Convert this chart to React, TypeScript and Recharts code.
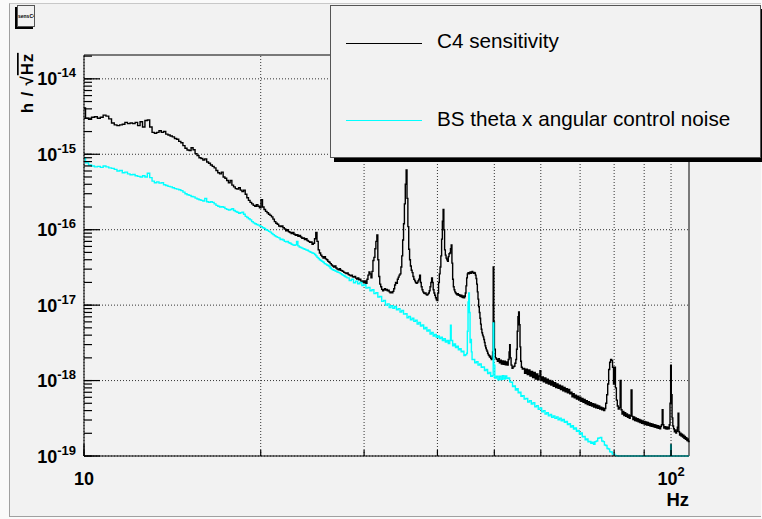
import { LineChart, Line, XAxis, YAxis, ReferenceLine } from "recharts";

// Spectra as [frequency (Hz), amplitude (1/sqrt(Hz))], histogram bins drawn as steps
const c4Low: [number, number][] = [
  [10.0, 4.1e-15], [10.06, 3.0e-15], [10.18, 2.9e-15], [10.3, 3.1e-15], [10.42, 3.15e-15],
  [10.54, 3.0e-15], [10.66, 3.1e-15], [10.78, 3.3e-15], [10.9, 3.2e-15], [11.02, 2.95e-15],
  [11.14, 2.6e-15], [11.26, 2.45e-15], [11.38, 2.4e-15], [11.5, 2.45e-15], [11.62, 2.5e-15],
  [11.74, 2.65e-15], [11.86, 2.55e-15], [11.98, 2.6e-15], [12.1, 2.55e-15], [12.22, 2.65e-15],
  [12.34, 2.4e-15], [12.46, 2.7e-15], [12.58, 2.3e-15], [12.7, 2.8e-15], [12.82, 2.85e-15],
  [12.94, 2.3e-15], [13.06, 1.95e-15], [13.18, 1.9e-15], [13.3, 1.95e-15], [13.42, 2.05e-15],
  [13.54, 1.95e-15], [13.66, 2.0e-15], [13.78, 1.85e-15], [13.9, 1.8e-15], [14.02, 1.75e-15],
  [14.14, 1.7e-15], [14.26, 1.62e-15], [14.38, 1.58e-15], [14.5, 1.48e-15], [14.62, 1.42e-15],
  [14.74, 1.3e-15], [14.86, 1.2e-15], [14.98, 1.14e-15], [15.1, 1.12e-15], [15.22, 1.22e-15],
  [15.34, 1.15e-15], [15.46, 1.02e-15], [15.58, 9.6e-16], [15.7, 9.0e-16], [15.82, 8.8e-16],
  [15.94, 8.4e-16], [16.06, 8.7e-16], [16.18, 7.9e-16], [16.3, 7.6e-16], [16.42, 7.2e-16],
  [16.54, 6.9e-16], [16.66, 6.6e-16], [16.78, 6.1e-16], [16.9, 5.7e-16], [17.02, 5.5e-16],
  [17.14, 5.8e-16], [17.26, 5.0e-16], [17.38, 4.8e-16], [17.5, 4.5e-16], [17.62, 4.2e-16],
  [17.74, 4.5e-16], [17.86, 3.9e-16], [17.98, 3.7e-16], [18.1, 3.5e-16], [18.22, 3.45e-16],
  [18.34, 3.6e-16], [18.46, 3.35e-16], [18.58, 3.2e-16], [18.7, 3.35e-16], [18.82, 2.95e-16],
  [18.94, 2.65e-16], [19.06, 2.45e-16], [19.18, 2.3e-16], [19.3, 2.2e-16], [19.42, 2.1e-16],
  [19.54, 2.05e-16], [19.66, 2.15e-16], [19.78, 2.05e-16], [19.9, 1.95e-16],
];

const c4Mid: [number, number][] = [
  [20.02, 2.5e-16], [20.14, 2.0e-16], [20.26, 1.85e-16], [20.38, 1.75e-16], [20.5, 1.68e-16],
  [20.62, 1.6e-16], [20.74, 1.55e-16], [20.86, 1.48e-16], [20.98, 1.38e-16], [21.1, 1.28e-16],
  [21.22, 1.22e-16], [21.34, 1.18e-16], [21.46, 1.12e-16], [21.58, 1.1e-16], [21.7, 1.12e-16],
  [21.82, 1.06e-16], [21.94, 1.02e-16], [22.06, 9.7e-17], [22.18, 1.0e-16], [22.3, 9.4e-17],
  [22.42, 9.2e-17], [22.54, 8.9e-17], [22.66, 9.2e-17], [22.78, 8.7e-17], [22.9, 8.4e-17],
  [23.02, 8.6e-17], [23.14, 8.2e-17], [23.26, 8.4e-17], [23.38, 8.0e-17], [23.5, 7.7e-17],
  [23.62, 7.8e-17], [23.74, 7.4e-17], [23.86, 7.6e-17], [23.98, 7.2e-17], [24.1, 7.0e-17],
  [24.22, 6.8e-17], [24.34, 6.9e-17], [24.46, 6.4e-17], [24.58, 6.6e-17], [24.7, 7.6e-17],
  [24.82, 9.2e-17], [24.94, 7.0e-17], [25.06, 5.4e-17], [25.18, 4.9e-17], [25.3, 4.6e-17],
  [25.42, 4.4e-17], [25.54, 4.2e-17], [25.66, 4.4e-17], [25.78, 4.1e-17], [25.9, 4.0e-17],
  [26.02, 3.8e-17], [26.14, 3.7e-17], [26.26, 3.55e-17], [26.38, 3.4e-17], [26.5, 3.3e-17],
  [26.62, 3.2e-17], [26.74, 3.3e-17], [26.86, 3.1e-17], [26.98, 3.0e-17], [27.1, 2.95e-17],
  [27.22, 3.05e-17], [27.34, 2.9e-17], [27.46, 2.85e-17], [27.58, 2.8e-17], [27.7, 2.72e-17],
  [27.82, 2.68e-17], [27.94, 2.62e-17], [28.06, 2.68e-17], [28.18, 2.55e-17], [28.3, 2.5e-17],
  [28.42, 2.45e-17], [28.54, 2.5e-17], [28.66, 2.38e-17], [28.78, 2.35e-17], [28.9, 2.4e-17],
  [29.02, 2.28e-17], [29.14, 2.22e-17], [29.26, 2.3e-17], [29.38, 2.16e-17], [29.5, 2.2e-17],
  [29.62, 2.08e-17], [29.74, 2.02e-17], [29.86, 2.1e-17], [29.98, 1.98e-17], [30.1, 2.1e-17],
  [30.22, 1.95e-17], [30.34, 2.2e-17], [30.46, 2.5e-17], [30.58, 2.75e-17], [30.7, 2.6e-17],
  [30.82, 2.3e-17], [30.94, 2.8e-17], [31.06, 3.9e-17], [31.18, 4.3e-17], [31.3, 5.6e-17],
  [31.42, 7.0e-17], [31.54, 8.5e-17], [31.66, 4.0e-17], [31.78, 2.4e-17], [31.9, 1.9e-17],
  [32.02, 1.75e-17], [32.14, 1.62e-17], [32.26, 1.55e-17], [32.38, 1.6e-17], [32.5, 1.65e-17],
  [32.62, 1.58e-17], [32.74, 1.62e-17], [32.86, 1.55e-17], [32.98, 1.58e-17], [33.1, 1.5e-17],
  [33.22, 1.46e-17], [33.34, 1.5e-17], [33.46, 1.46e-17], [33.58, 1.52e-17], [33.7, 1.65e-17],
  [33.82, 1.85e-17], [33.94, 2.0e-17], [34.06, 1.95e-17], [34.18, 2.2e-17], [34.3, 2.35e-17],
  [34.42, 2.5e-17], [34.54, 2.6e-17], [34.66, 3.2e-17], [34.78, 4.5e-17], [34.9, 7.3e-17],
  [35.02, 1.2e-16], [35.14, 2.2e-16], [35.26, 4.0e-16], [35.38, 6.2e-16], [35.5, 2.6e-16],
  [35.62, 1.1e-16], [35.74, 5.5e-17], [35.86, 4.0e-17], [35.98, 3.3e-17], [36.1, 2.9e-17],
  [36.22, 2.7e-17], [36.34, 2.4e-17], [36.46, 2.2e-17], [36.58, 2.1e-17], [36.7, 2.0e-17],
  [36.82, 1.95e-17], [36.94, 2.0e-17], [37.06, 2.1e-17], [37.18, 2.2e-17], [37.3, 2.5e-17],
  [37.42, 2.0e-17], [37.54, 1.75e-17], [37.66, 1.6e-17], [37.78, 1.5e-17], [37.9, 1.45e-17],
  [38.02, 1.42e-17], [38.14, 1.45e-17], [38.26, 1.38e-17], [38.38, 1.36e-17], [38.5, 1.4e-17],
  [38.62, 1.45e-17], [38.74, 1.55e-17], [38.86, 1.75e-17], [38.98, 2.0e-17], [39.1, 2.3e-17],
  [39.22, 2.0e-17], [39.34, 1.6e-17], [39.46, 1.45e-17], [39.58, 1.35e-17], [39.7, 1.25e-17],
  [39.82, 1.18e-17], [39.94, 1.15e-17], [40.06, 1.45e-17], [40.18, 2.0e-17], [40.3, 2.6e-17],
  [40.42, 3.2e-17], [40.54, 4.5e-17], [40.66, 7.5e-17], [40.78, 1.3e-16], [40.9, 1.85e-16],
  [41.02, 1.0e-16], [41.14, 5.4e-17], [41.26, 4.6e-17], [41.38, 4.2e-17], [41.5, 4.0e-17],
  [41.62, 3.8e-17], [41.74, 4.4e-17], [41.86, 4.8e-17], [41.98, 4.9e-17], [42.1, 5.6e-17],
  [42.22, 6.3e-17], [42.34, 3.6e-17], [42.46, 2.2e-17], [42.58, 1.75e-17], [42.7, 1.6e-17],
  [42.82, 1.5e-17], [42.94, 1.45e-17], [43.06, 1.4e-17], [43.18, 1.37e-17], [43.3, 1.42e-17],
  [43.42, 1.35e-17], [43.54, 1.38e-17], [43.66, 1.32e-17], [43.78, 1.3e-17], [43.9, 1.35e-17],
  [44.02, 1.28e-17], [44.14, 1.26e-17], [44.26, 1.32e-17], [44.38, 1.25e-17], [44.5, 1.3e-17],
  [44.62, 1.45e-17], [44.74, 1.8e-17], [44.86, 2.3e-17], [44.98, 2.6e-17], [45.1, 2.7e-17],
  [45.22, 2.6e-17], [45.34, 2.7e-17], [45.46, 2.75e-17], [45.58, 2.65e-17], [45.7, 2.72e-17],
  [45.82, 2.8e-17], [45.94, 2.7e-17], [46.06, 2.65e-17], [46.18, 2.72e-17], [46.3, 2.68e-17],
  [46.42, 2.5e-17], [46.54, 2.25e-17], [46.66, 1.9e-17], [46.78, 1.5e-17], [46.9, 1.2e-17],
  [47.02, 9.5e-18], [47.14, 8.0e-18], [47.26, 6.7e-18], [47.38, 5.6e-18], [47.5, 4.8e-18],
  [47.62, 4.3e-18], [47.74, 4.0e-18], [47.86, 3.8e-18], [47.98, 3.5e-18], [48.1, 3.2e-18],
  [48.22, 2.9e-18], [48.34, 2.7e-18], [48.46, 2.55e-18], [48.58, 2.45e-18], [48.7, 2.3e-18],
  [48.82, 2.2e-18], [48.94, 2.15e-18], [49.06, 2.05e-18], [49.18, 2.1e-18], [49.3, 1.98e-18],
  [49.42, 1.9e-18], [49.54, 1.95e-18], [49.66, 2.4e-18], [49.78, 3.2e-17], [49.9, 6.0e-18],
];

const c4High: [number, number][] = [
  [50.02, 2.6e-18], [50.2, 2.0e-18], [50.4, 1.92e-18], [50.6, 1.8e-18], [50.8, 1.95e-18],
  [51.0, 1.72e-18], [51.2, 1.86e-18], [51.4, 1.66e-18], [51.6, 1.82e-18], [51.8, 1.64e-18],
  [52.0, 1.8e-18], [52.2, 1.62e-18], [52.4, 1.76e-18], [52.6, 1.6e-18], [52.8, 1.9e-18],
  [52.98, 2.4e-18], [53.1, 3.0e-18], [53.22, 2.0e-18], [53.4, 1.6e-18], [53.6, 1.45e-18],
  [53.8, 1.52e-18], [54.0, 1.55e-18], [54.2, 1.7e-18], [54.4, 1.9e-18], [54.55, 2.6e-18],
  [54.7, 4.5e-18], [54.85, 7.0e-18], [55.0, 8.1e-18], [55.15, 5.5e-18], [55.3, 2.8e-18],
  [55.45, 1.8e-18], [55.6, 1.5e-18], [55.8, 1.42e-18], [56.0, 1.45e-18], [56.3, 1.25e-18],
  [56.6, 1.42e-18], [56.9, 1.2e-18], [57.2, 1.38e-18], [57.5, 1.15e-18], [57.8, 1.32e-18],
  [58.1, 1.1e-18], [58.4, 1.28e-18], [58.7, 1.05e-18], [59.0, 1.22e-18], [59.3, 1.02e-18],
  [59.6, 1.15e-18], [59.8, 1.35e-18], [60.0, 1.0e-18], [60.3, 1.12e-18], [60.6, 9.6e-19],
  [60.9, 1.08e-18], [61.2, 9.3e-19], [61.5, 1.04e-18], [61.8, 9.0e-19], [62.1, 1.0e-18],
  [62.4, 8.7e-19], [62.7, 9.7e-19], [63.0, 8.4e-19], [63.3, 9.4e-19], [63.6, 8.1e-19],
  [63.9, 9.0e-19], [64.2, 7.9e-19], [64.5, 8.7e-19], [64.8, 7.6e-19], [65.1, 8.4e-19],
  [65.4, 7.3e-19], [65.7, 8.1e-19], [66.0, 7.1e-19], [66.3, 7.8e-19], [66.6, 6.9e-19],
  [66.9, 7.6e-19], [67.2, 6.7e-19], [67.5, 7.0e-19], [67.8, 6.1e-19], [68.1, 6.7e-19],
  [68.4, 5.9e-19], [68.7, 6.4e-19], [69.0, 5.7e-19], [69.3, 6.2e-19], [69.6, 5.5e-19],
  [69.9, 6.0e-19], [70.2, 5.3e-19], [70.5, 5.8e-19], [70.8, 5.15e-19], [71.1, 5.6e-19],
  [71.4, 4.95e-19], [71.7, 5.4e-19], [72.0, 4.8e-19], [72.3, 5.25e-19], [72.6, 4.7e-19],
  [72.9, 5.1e-19], [73.2, 4.6e-19], [73.5, 4.95e-19], [73.8, 4.45e-19], [74.1, 4.85e-19],
  [74.4, 4.35e-19], [74.7, 4.7e-19], [75.0, 4.3e-19], [75.3, 4.6e-19], [75.6, 4.2e-19],
  [75.9, 4.45e-19], [76.2, 4.1e-19], [76.5, 4.35e-19], [76.8, 4.0e-19], [77.1, 4.25e-19],
  [77.4, 5.0e-19], [77.7, 6.5e-19], [78.0, 9.0e-19], [78.3, 1.4e-18], [78.6, 1.75e-18],
  [78.9, 1.9e-18], [79.2, 1.85e-18], [79.5, 1.5e-18], [79.8, 9.0e-19], [80.1, 1.5e-18],
  [80.4, 8.0e-19], [80.7, 5.5e-19], [81.0, 4.6e-19], [81.3, 4.2e-19], [81.6, 4.4e-19],
  [81.9, 1.0e-18], [82.2, 4.1e-19], [82.5, 3.6e-19], [82.8, 3.9e-19], [83.1, 3.45e-19],
  [83.4, 3.75e-19], [83.7, 3.35e-19], [84.0, 3.6e-19], [84.3, 3.25e-19], [84.6, 3.5e-19],
  [84.9, 3.15e-19], [85.2, 3.45e-19], [85.5, 7.5e-19], [85.8, 3.35e-19], [86.1, 3.05e-19],
  [86.4, 3.3e-19], [86.7, 2.95e-19], [87.0, 3.2e-19], [87.3, 2.9e-19], [87.6, 3.12e-19],
  [87.9, 2.84e-19], [88.2, 3.05e-19], [88.5, 2.78e-19], [88.8, 2.98e-19], [89.1, 2.72e-19],
  [89.4, 2.92e-19], [89.7, 2.67e-19], [90.0, 2.88e-19], [90.3, 2.62e-19], [90.6, 2.82e-19],
  [90.9, 2.58e-19], [91.2, 2.78e-19], [91.5, 2.55e-19], [91.8, 2.72e-19], [92.1, 2.5e-19],
  [92.4, 2.68e-19], [92.7, 2.47e-19], [93.0, 2.64e-19], [93.3, 2.43e-19], [93.6, 2.6e-19],
  [93.9, 2.4e-19], [94.2, 2.56e-19], [94.5, 2.36e-19], [94.8, 2.52e-19], [95.1, 2.33e-19],
  [95.4, 2.48e-19], [95.7, 2.3e-19], [96.0, 2.45e-19], [96.3, 2.6e-19], [96.6, 4.1e-19],
  [96.9, 2.6e-19], [97.2, 2.35e-19], [97.5, 2.45e-19], [97.8, 2.3e-19], [98.1, 2.42e-19],
  [98.4, 2.28e-19], [98.7, 2.4e-19], [99.0, 2.3e-19], [99.3, 2.6e-19], [99.6, 5.0e-19],
  [99.85, 1.6e-18], [100.1, 6.5e-19], [100.4, 3.2e-19], [100.7, 2.5e-19], [101.0, 2.3e-19],
  [101.3, 2.1e-19], [101.6, 2.22e-19], [101.9, 2.02e-19], [102.2, 2.12e-19], [102.5, 2.4e-19],
  [102.8, 3.7e-19], [103.1, 2.1e-19], [103.4, 1.9e-19], [103.7, 2.0e-19], [104.0, 1.84e-19],
  [104.3, 1.94e-19], [104.6, 1.78e-19], [104.9, 1.88e-19], [105.2, 1.72e-19], [105.5, 1.82e-19],
  [105.8, 1.66e-19], [106.1, 1.75e-19], [106.4, 1.6e-19], [106.7, 1.68e-19], [107.0, 1.56e-19],
  [107.3, 1.6e-19],
];

const bsLow: [number, number][] = [
  [10.0, 9.0e-16], [10.06, 7.7e-16], [10.18, 7.2e-16], [10.3, 7.0e-16], [10.42, 6.8e-16],
  [10.54, 6.9e-16], [10.66, 6.7e-16], [10.78, 7.0e-16], [10.9, 6.8e-16], [11.02, 6.6e-16],
  [11.14, 6.5e-16], [11.26, 6.3e-16], [11.38, 6.0e-16], [11.5, 6.1e-16], [11.62, 5.7e-16],
  [11.74, 5.8e-16], [11.86, 5.5e-16], [11.98, 5.35e-16], [12.1, 5.4e-16], [12.22, 5.2e-16],
  [12.34, 5.1e-16], [12.46, 5.0e-16], [12.58, 5.2e-16], [12.7, 5.0e-16], [12.82, 5.6e-16],
  [12.94, 4.9e-16], [13.06, 4.4e-16], [13.18, 4.2e-16], [13.3, 4.3e-16], [13.42, 4.15e-16],
  [13.54, 4.2e-16], [13.66, 3.95e-16], [13.78, 3.85e-16], [13.9, 3.75e-16], [14.02, 3.7e-16],
  [14.14, 3.6e-16], [14.26, 3.5e-16], [14.38, 3.45e-16], [14.5, 3.38e-16], [14.62, 3.3e-16],
  [14.74, 3.15e-16], [14.86, 3.0e-16], [14.98, 2.9e-16], [15.1, 2.85e-16], [15.22, 2.75e-16],
  [15.34, 2.72e-16], [15.46, 2.62e-16], [15.58, 2.55e-16], [15.7, 2.5e-16], [15.82, 2.45e-16],
  [15.94, 2.4e-16], [16.06, 2.6e-16], [16.18, 2.35e-16], [16.3, 2.3e-16], [16.42, 2.35e-16],
  [16.54, 2.3e-16], [16.66, 2.2e-16], [16.78, 2.1e-16], [16.9, 2.05e-16], [17.02, 2.0e-16],
  [17.14, 2.02e-16], [17.26, 1.98e-16], [17.38, 1.9e-16], [17.5, 1.86e-16], [17.62, 1.82e-16],
  [17.74, 1.85e-16], [17.86, 1.9e-16], [17.98, 1.8e-16], [18.1, 1.74e-16], [18.22, 1.7e-16],
  [18.34, 1.65e-16], [18.46, 1.68e-16], [18.58, 1.7e-16], [18.7, 1.6e-16], [18.82, 1.5e-16],
  [18.94, 1.45e-16], [19.06, 1.4e-16], [19.18, 1.35e-16], [19.3, 1.28e-16], [19.42, 1.23e-16],
  [19.54, 1.2e-16], [19.66, 1.17e-16], [19.78, 1.15e-16], [19.9, 1.12e-16],
];

const bsMid: [number, number][] = [
  [20.02, 1.1e-16], [20.14, 1.06e-16], [20.26, 1.04e-16], [20.38, 1.0e-16], [20.5, 9.8e-17],
  [20.62, 9.5e-17], [20.74, 9.3e-17], [20.86, 8.9e-17], [20.98, 8.6e-17], [21.1, 8.3e-17],
  [21.22, 8.1e-17], [21.34, 7.9e-17], [21.46, 7.8e-17], [21.58, 7.4e-17], [21.7, 7.5e-17],
  [21.82, 7.3e-17], [21.94, 7.0e-17], [22.06, 6.9e-17], [22.18, 7.0e-17], [22.3, 6.7e-17],
  [22.42, 6.6e-17], [22.54, 6.4e-17], [22.66, 6.3e-17], [22.78, 6.2e-17], [22.9, 6.3e-17],
  [23.02, 7.0e-17], [23.14, 6.1e-17], [23.26, 5.9e-17], [23.38, 5.8e-17], [23.5, 5.7e-17],
  [23.62, 5.6e-17], [23.74, 5.5e-17], [23.86, 5.4e-17], [23.98, 5.35e-17], [24.1, 5.2e-17],
  [24.22, 5.1e-17], [24.34, 5.0e-17], [24.46, 4.9e-17], [24.58, 4.85e-17], [24.7, 4.7e-17],
  [24.82, 4.5e-17], [24.94, 4.3e-17], [25.06, 4.15e-17], [25.18, 4.0e-17], [25.3, 3.9e-17],
  [25.42, 3.8e-17], [25.54, 3.7e-17], [25.66, 3.55e-17], [25.78, 3.5e-17], [25.9, 3.4e-17],
  [26.02, 3.35e-17], [26.14, 3.25e-17], [26.26, 3.1e-17], [26.38, 3.0e-17], [26.5, 2.95e-17],
  [26.62, 2.9e-17], [26.74, 2.85e-17], [26.86, 2.8e-17], [26.98, 2.75e-17], [27.1, 2.72e-17],
  [27.22, 2.68e-17], [27.34, 2.62e-17], [27.46, 2.55e-17], [27.58, 2.5e-17], [27.7, 2.45e-17],
  [27.82, 2.4e-17], [27.94, 2.35e-17], [28.06, 2.3e-17], [28.3, 2.12e-17], [28.54, 2.2e-17],
  [28.78, 1.98e-17], [29.02, 2.08e-17], [29.26, 1.92e-17], [29.5, 2.0e-17], [29.74, 1.82e-17],
  [29.98, 1.86e-17], [30.22, 1.68e-17], [30.46, 1.72e-17], [30.7, 1.55e-17], [30.94, 1.6e-17],
  [31.18, 1.42e-17], [31.42, 1.46e-17], [31.66, 1.28e-17], [31.9, 1.3e-17], [32.14, 1.12e-17],
  [32.38, 1.15e-17], [32.62, 1.0e-17], [32.86, 1.04e-17], [33.1, 9.3e-18], [33.34, 9.8e-18],
  [33.58, 9.1e-18], [33.82, 9.6e-18], [34.06, 8.7e-18], [34.3, 9.0e-18], [34.54, 8.1e-18],
  [34.78, 8.5e-18], [35.02, 7.6e-18], [35.26, 7.7e-18], [35.5, 6.8e-18], [35.74, 7.1e-18],
  [35.98, 6.4e-18], [36.22, 6.7e-18], [36.46, 6.1e-18], [36.7, 6.3e-18], [36.94, 5.6e-18],
  [37.18, 5.9e-18], [37.42, 5.3e-18], [37.66, 5.45e-18], [37.9, 4.85e-18], [38.14, 5.05e-18],
  [38.38, 4.55e-18], [38.62, 4.7e-18], [38.86, 4.15e-18], [39.1, 4.35e-18], [39.34, 3.9e-18],
  [39.58, 4.1e-18], [39.82, 3.75e-18], [40.06, 3.9e-18], [40.3, 3.6e-18], [40.54, 3.75e-18],
  [40.78, 3.4e-18], [41.02, 3.6e-18], [41.26, 3.25e-18], [41.5, 3.4e-18], [41.74, 3.1e-18],
  [41.98, 3.4e-18], [42.1, 5.4e-18], [42.22, 3.4e-18], [42.46, 2.9e-18], [42.7, 3.05e-18],
  [42.94, 2.75e-18], [43.18, 2.85e-18], [43.42, 2.55e-18], [43.66, 2.65e-18], [43.9, 2.4e-18],
  [44.14, 2.45e-18], [44.38, 2.15e-18], [44.62, 2.2e-18], [44.86, 2.3e-18], [44.98, 4.5e-18],
  [45.1, 1.1e-17], [45.22, 1.45e-17], [45.34, 8.0e-18], [45.46, 3.2e-18], [45.58, 3.5e-18],
  [45.7, 2.4e-18], [45.82, 1.9e-18],
];

const bsHigh: [number, number][] = [
  [46.0, 1.9e-18], [46.3, 1.72e-18], [46.6, 1.78e-18], [46.9, 1.6e-18], [47.2, 1.66e-18],
  [47.5, 1.5e-18], [47.8, 1.52e-18], [48.1, 1.36e-18], [48.4, 1.4e-18], [48.7, 1.24e-18],
  [49.0, 1.28e-18], [49.3, 1.14e-18], [49.6, 1.16e-18], [49.78, 5.8e-18], [49.9, 1.6e-18],
  [50.1, 1.08e-18], [50.4, 1.14e-18], [50.7, 1.02e-18], [51.0, 1.14e-18], [51.3, 1.03e-18],
  [51.6, 1.16e-18], [51.9, 1.05e-18], [52.2, 1.15e-18], [52.5, 1.06e-18], [52.8, 1.08e-18],
  [53.1, 9.6e-19], [53.4, 9.5e-19], [53.7, 8.3e-19], [54.0, 8.5e-19], [54.3, 7.5e-19],
  [54.6, 7.8e-19], [54.9, 6.9e-19], [55.2, 7.0e-19], [55.5, 6.2e-19], [55.8, 6.3e-19],
  [56.2, 5.7e-19], [56.6, 5.8e-19], [57.0, 5.2e-19], [57.4, 5.4e-19], [57.8, 4.9e-19],
  [58.2, 5.1e-19], [58.6, 4.5e-19], [59.0, 4.65e-19], [59.4, 4.15e-19], [59.8, 4.35e-19],
  [60.2, 3.85e-19], [60.6, 4.0e-19], [61.0, 3.6e-19], [61.4, 3.75e-19], [61.8, 3.4e-19],
  [62.2, 3.55e-19], [62.6, 3.25e-19], [63.0, 3.4e-19], [63.4, 3.15e-19], [63.8, 3.3e-19],
  [64.2, 3.02e-19], [64.6, 3.18e-19], [65.0, 2.92e-19], [65.4, 3.05e-19], [65.8, 2.8e-19],
  [66.2, 2.88e-19], [66.6, 2.62e-19], [67.0, 2.68e-19], [67.4, 2.42e-19], [67.8, 2.52e-19],
  [68.2, 2.28e-19], [68.6, 2.35e-19], [69.0, 2.12e-19], [69.4, 2.18e-19], [69.8, 1.96e-19],
  [70.2, 2.02e-19], [70.6, 1.8e-19], [71.0, 1.82e-19], [71.4, 1.64e-19], [71.8, 1.68e-19],
  [72.2, 1.54e-19], [72.6, 1.56e-19], [73.0, 1.47e-19], [73.4, 1.52e-19], [73.8, 1.43e-19],
  [74.2, 1.55e-19], [74.6, 1.58e-19], [75.0, 1.72e-19], [75.4, 1.74e-19], [75.8, 1.76e-19],
  [76.2, 1.58e-19], [76.6, 1.55e-19], [77.0, 1.4e-19], [77.4, 1.38e-19], [77.8, 1.26e-19],
  [78.2, 1.24e-19], [78.6, 1.14e-19], [79.0, 1.13e-19], [79.4, 1.06e-19], [79.8, 1.06e-19],
  [80.2, 1.02e-19], [80.6, 1.01e-19], [81.0, 1.0e-19], [99.7, 1.0e-19], [99.85, 1.4e-19],
  [100.1, 1.0e-19], [107.3, 1.0e-19],
];

const X_RANGE: [number, number] = [10, 107.3];
const Y_RANGE: [number, number] = [1e-19, 2.07e-14];

const xTicks = [10, 20, 30, 40, 50, 60, 70, 80, 90, 100];
const xGrid = [10, 20, 30, 40, 50, 60, 70, 80, 90, 100];
const yDecades = [-19, -18, -17, -16, -15, -14];
const yMinorSteps = [1, 2, 3, 4, 5, 6, 7, 8, 9];

const yTicks = yDecades
  .flatMap((p) => yMinorSteps.map((m) => m * Math.pow(10, p)))
  .filter((v) => v <= Y_RANGE[1]);
const yGrid = yDecades.map((p) => Math.pow(10, p));

const c4Data = [...c4Low, ...c4Mid, ...c4High].map(([f, v]) => ({ f, v }));
const bsData = [...bsLow, ...bsMid, ...bsHigh].map(([f, v]) => ({ f, v }));

const FONT = '"Liberation Sans", Arial, Helvetica, sans-serif';
const CANVAS_BG = "#f2f2f2";
const GRID = "#333";

// Recharts draws the short inward tick; decades get a longer one here, plus the label
function YTick({ x, y, payload }: any) {
  const lg = Math.log10(payload.value);
  const p = Math.round(lg);
  const major = Math.abs(lg - p) < 1e-6;
  if (!major) return <g />;
  return (
    <g>
      <path d={`M${x},${y}h16`} stroke="#000" strokeWidth={1.2} fill="none" />
      <text x={x - 8} y={y + 6.5} textAnchor="end" fontFamily={FONT} fontWeight="bold" fontSize={18} fill="#000">
        <tspan>10</tspan>
        <tspan dy={-8} fontSize={13}>{p}</tspan>
      </text>
    </g>
  );
}

function XTick({ x, y, payload }: any) {
  const v = payload.value;
  if (v !== 10 && v !== 100) return <g />;
  return (
    <g>
      <path d={`M${x},${y}v-12`} stroke="#000" strokeWidth={1.2} fill="none" />
      <text x={x} y={y + 28.5} textAnchor="middle" fontFamily={FONT} fontWeight="bold" fontSize={18} fill="#000">
        <tspan>10</tspan>
        {v === 100 && (
          <tspan dy={-9} fontSize={13}>
            2
          </tspan>
        )}
      </text>
    </g>
  );
}

function YTitle() {
  return (
    <text
      x={33}
      y={83}
      transform="rotate(-90, 33, 83)"
      textAnchor="middle"
      fontFamily={FONT}
      fontWeight="bold"
      fontSize={17}
      letterSpacing={0.8}
      fill="#000"
    >
      <tspan>h / √</tspan>
      <tspan style={{ textDecoration: "overline" }}>Hz</tspan>
    </text>
  );
}

function XTitle() {
  return (
    <text x={689} y={506} textAnchor="end" fontFamily={FONT} fontWeight="bold" fontSize={18.5} fill="#000">
      Hz
    </text>
  );
}

const legendRows = [
  { name: "C4 sensitivity", color: "#000000", lineTop: 36.5, textTop: 23.5 },
  { name: "BS theta x angular control noise", color: "#00ffff", lineTop: 113.5, textTop: 101.5 },
];

export default function App() {
  return (
    <div style={{ position: "absolute", left: 0, top: 0, width: 762, height: 519, background: "#fafafa", overflow: "hidden" }}>
      {/* canvas */}
      <div
        style={{
          position: "absolute",
          left: 9,
          top: 3,
          width: 752,
          height: 514,
          background: CANVAS_BG,
          borderLeft: "1px solid #a0a0a0",
          borderBottom: "1px solid #a0a0a0",
          borderTop: "1px solid #c8c8c8",
          boxSizing: "border-box",
        }}
      />
      {/* canvas name tag */}
      <div
        style={{
          position: "absolute",
          left: 17,
          top: 5,
          width: 18,
          height: 22,
          boxSizing: "border-box",
          border: "1px solid #555",
          background: CANVAS_BG,
          boxShadow: "-2px 2px 0 #000",
          fontFamily: FONT,
          fontWeight: "bold",
          fontSize: 5,
          lineHeight: "20px",
          textAlign: "center",
          overflow: "hidden",
        }}
      >
        sensC4
      </div>
      <LineChart
        width={762}
        height={519}
        margin={{ top: 55, right: 73, bottom: 0, left: 8 }}
        style={{ position: "absolute", left: 0, top: 0 }}
      >
        <XAxis
          dataKey="f"
          type="number"
          scale="log"
          domain={X_RANGE}
          ticks={xTicks}
          interval={0}
          height={63}
          tickSize={-6}
          tickMargin={6}
          tickLine={{ stroke: "#000", strokeWidth: 1.2 }}
          axisLine={{ stroke: "#000" }}
          tick={<XTick />}
          label={<XTitle />}
        />
        <YAxis
          dataKey="v"
          type="number"
          scale="log"
          domain={Y_RANGE}
          ticks={yTicks}
          interval={0}
          width={76}
          tickSize={-8}
          tickMargin={8}
          tickLine={{ stroke: "#000", strokeWidth: 1.2 }}
          axisLine={{ stroke: "#000" }}
          tick={<YTick />}
          label={<YTitle />}
        />
        {yGrid.map((v) => (
          <ReferenceLine key={`gy-${v}`} y={v} stroke={GRID} strokeDasharray="1 2" strokeWidth={1} />
        ))}
        {xGrid.map((f) => (
          <ReferenceLine key={`gx-${f}`} x={f} stroke={GRID} strokeDasharray="1 2" strokeWidth={1} />
        ))}
        <ReferenceLine y={Y_RANGE[1]} stroke="#000" strokeWidth={1} />
        <ReferenceLine x={X_RANGE[1]} stroke="#000" strokeWidth={1} />
        <Line
          data={c4Data}
          dataKey="v"
          name="C4 sensitivity"
          type="stepAfter"
          stroke="#000000"
          strokeWidth={1.4}
          dot={false}
          activeDot={false}
          isAnimationActive={false}
        />
        <Line
          data={bsData}
          dataKey="v"
          name="BS theta x angular control noise"
          type="stepAfter"
          stroke="#00ffff"
          strokeWidth={1.4}
          dot={false}
          activeDot={false}
          isAnimationActive={false}
        />
      </LineChart>
      {/* legend box */}
      <div
        style={{
          position: "absolute",
          left: 330,
          top: 5,
          width: 431,
          height: 153,
          boxSizing: "border-box",
          border: "1px solid #555",
          background: CANVAS_BG,
          boxShadow: "4px 4px 0 #000",
          fontFamily: FONT,
        }}
      >
        {legendRows.map((r) => (
          <div key={r.name}>
            <div style={{ position: "absolute", left: 15, top: r.lineTop, width: 76, height: 1, background: r.color }} />
            <div
              style={{
                position: "absolute",
                left: 106,
                top: r.textTop,
                fontSize: 20.7,
                lineHeight: "22px",
                color: "#000",
                whiteSpace: "nowrap",
              }}
            >
              {r.name}
            </div>
          </div>
        ))}
      </div>
    </div>
  );
}
